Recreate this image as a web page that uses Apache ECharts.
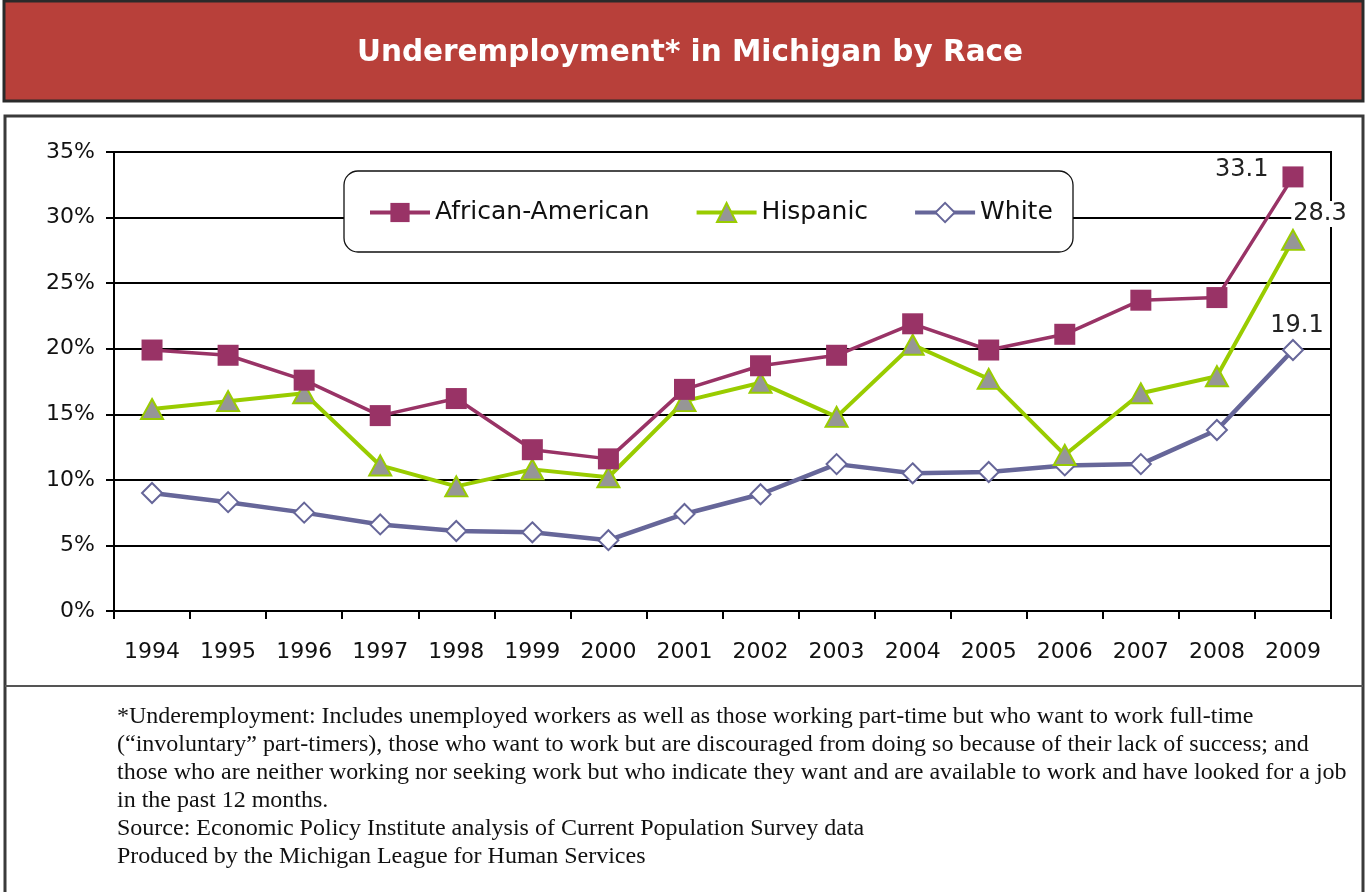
<!DOCTYPE html>
<html>
<head>
<meta charset="utf-8">
<script src="https://cdn.jsdelivr.net/npm/echarts@6/dist/echarts.min.js"></script>
<style>
html,body{margin:0;padding:0;background:#fff;}
#chart{width:1366px;height:892px;}
</style>
</head>
<body>
<div id="chart"></div>
<script>
const years = ['1994','1995','1996','1997','1998','1999','2000','2001','2002','2003','2004','2005','2006','2007','2008','2009'];
const africanAmerican = [19.9, 19.5, 17.6, 14.9, 16.2, 12.3, 11.6, 16.9, 18.7, 19.5, 21.9, 19.9, 21.1, 23.7, 23.9, 33.1];
const hispanic = [15.4, 16.0, 16.6, 11.1, 9.5, 10.8, 10.2, 16.0, 17.4, 14.8, 20.3, 17.7, 11.9, 16.6, 17.9, 28.3];
const white = [9.0, 8.3, 7.5, 6.6, 6.1, 6.0, 5.4, 7.4, 8.9, 11.2, 10.5, 10.6, 11.1, 11.2, 13.8, 19.9];
const endLabels = ['33.1', '28.3', '19.1'];
const seriesNames = ['African-American', 'Hispanic', 'White'];
const titleText = 'Underemployment* in Michigan by Race';
const footnoteLines = [
  '*Underemployment: Includes unemployed workers as well as those working part-time but who want to work full-time',
  '(\u201cinvoluntary\u201d part-timers), those who want to work but are discouraged from doing so because of their lack of success; and',
  'those who are neither working nor seeking work but who indicate they want and are available to work and have looked for a job',
  'in the past 12 months.',
  'Source: Economic Policy Institute analysis of Current Population Survey data',
  'Produced by the Michigan League for Human Services'
];

const SANS = '"DejaVu Sans", sans-serif';
const chart = echarts.init(document.getElementById('chart'), null, {renderer: 'canvas'});

function withEndLabel(arr, idx, labelOpt) {
  return arr.map((v, i) => i === arr.length - 1
    ? {value: v, label: Object.assign({show: true, formatter: endLabels[idx], fontFamily: SANS, fontSize: 24, color: '#222'}, labelOpt)}
    : v);
}

const graphics = [
  {type: 'rect', z: -10, shape: {x: 4, y: 1, width: 1359, height: 100}, style: {fill: '#B8403A', stroke: '#2a2a2a', lineWidth: 3}},
  {type: 'text', z: -9, x: 690, y: 53, style: {text: titleText, fill: '#fff', font: 'bold 29.5px "DejaVu Sans", sans-serif', textAlign: 'center', textVerticalAlign: 'middle'}},
  {type: 'rect', z: -10, shape: {x: 5, y: 116, width: 1358, height: 800}, style: {fill: '#fff', stroke: '#3a3a3a', lineWidth: 3}},
  {type: 'line', z: -9, shape: {x1: 5, y1: 686, x2: 1363, y2: 686}, style: {stroke: '#555', lineWidth: 2}},
  {type: 'rect', z: 50, shape: {x: 344, y: 171, width: 729, height: 81, r: 14}, style: {fill: '#fff', stroke: '#111', lineWidth: 1.3}}
];
footnoteLines.forEach((t, i) => {
  graphics.push({type: 'text', z: -9, x: 117, y: 717 + i * 28, style: {text: t, fill: '#111', font: '24px "Liberation Serif", "Times New Roman", serif', textVerticalAlign: 'middle'}});
});

const option = {
  animation: false,
  backgroundColor: '#fff',
  graphic: graphics,
  legend: {
    z: 60,
    left: 368,
    top: 200,
    itemWidth: 60,
    itemHeight: 24,
    itemGap: 45,
    padding: 0,
    textStyle: {fontFamily: SANS, fontSize: 25, color: '#111'},
    data: [
      {name: seriesNames[0], lineStyle: {width: 4}},
      {name: seriesNames[1], lineStyle: {width: 4}},
      {name: seriesNames[2], lineStyle: {width: 4}}
    ]
  },
  grid: {left: 114, right: 35, top: 152, bottom: 281, show: true, borderColor: '#000', borderWidth: 2, backgroundColor: 'transparent'},
  xAxis: {
    type: 'category',
    data: years,
    boundaryGap: true,
    axisLine: {lineStyle: {color: '#000', width: 2}},
    axisTick: {show: true, alignWithLabel: false, interval: 0, length: 8, lineStyle: {color: '#000', width: 2}},
    axisLabel: {fontFamily: SANS, fontSize: 22, color: '#111', margin: 30, interval: 0}
  },
  yAxis: {
    type: 'value',
    min: 0, max: 35, interval: 5,
    axisLine: {show: true, lineStyle: {color: '#000', width: 2}},
    axisTick: {show: true, length: 8, lineStyle: {color: '#000', width: 2}},
    axisLabel: {fontFamily: SANS, fontSize: 22, color: '#111', margin: 19, formatter: '{value}%'},
    splitLine: {show: true, lineStyle: {color: '#000', width: 2}}
  },
  series: [
    {
      name: seriesNames[0], type: 'line', z: 5,
      data: withEndLabel(africanAmerican, 0, {position: 'left', distance: 14, offset: [0, -7]}),
      symbol: 'rect', symbolSize: 21, showAllSymbol: true,
      lineStyle: {color: '#993366', width: 3.5},
      itemStyle: {color: '#993366', borderColor: '#993366', borderWidth: 0}
    },
    {
      name: seriesNames[1], type: 'line', z: 4,
      data: withEndLabel(hispanic, 1, {position: 'top', distance: 6, offset: [27, 4], backgroundColor: '#fff', padding: [1, 2]}),
      symbol: 'triangle', symbolSize: [22, 20], showAllSymbol: true,
      lineStyle: {color: '#99CC00', width: 4},
      itemStyle: {color: '#969696', borderColor: '#99CC00', borderWidth: 2}
    },
    {
      name: seriesNames[2], type: 'line', z: 3,
      data: withEndLabel(white, 2, {position: 'top', distance: 6, offset: [4, 5]}),
      symbol: 'diamond', symbolSize: 20, showAllSymbol: true,
      lineStyle: {color: '#666699', width: 4.5},
      itemStyle: {color: '#ffffff', borderColor: '#666699', borderWidth: 2}
    }
  ]
};
chart.setOption(option);
</script>
</body>
</html>
